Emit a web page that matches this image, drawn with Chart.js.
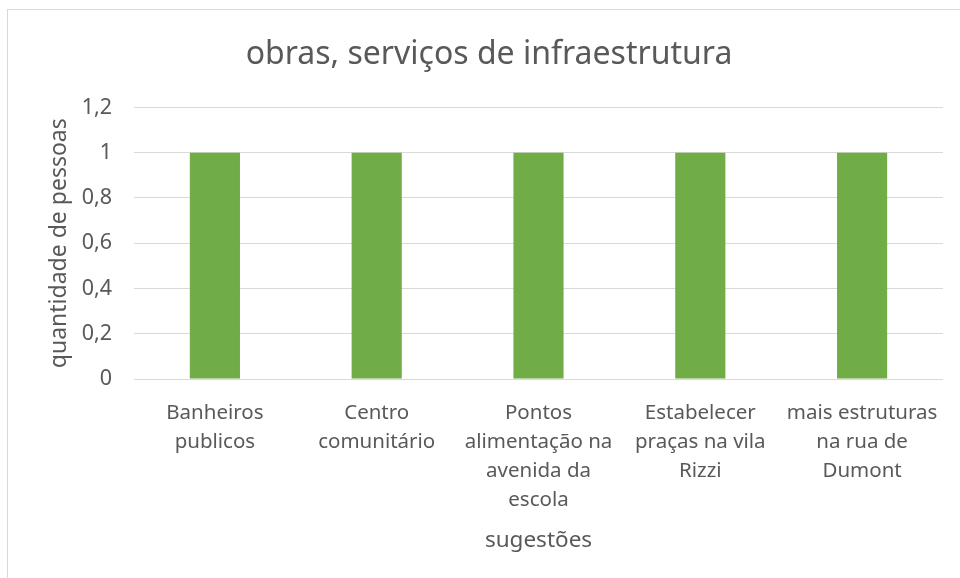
<!DOCTYPE html>
<html>
  <head>
    <meta charset="utf-8">
    <title>obras, serviços de infraestrutura</title>
    <script src="https://cdn.jsdelivr.net/npm/chart.js@4.4.1/dist/chart.umd.min.js"></script>
    <style>
      html, body { margin: 0; padding: 0; background: #fff; }
      #frame { position: absolute; left: 7px; top: 9px; width: 1000px; height: 620px; border: 1px solid #d9d9d9; }
      #wrap { position: absolute; left: 0; top: 0; width: 960px; height: 578px; }
    </style>
  </head>
  <body style="font-family: 'Noto Sans', sans-serif;">
    <div id="frame"></div>
    <div id="wrap">
      <canvas id="chart" width="960" height="578"></canvas>
    </div>

    <script type="text/javascript">
    var categories = [
      ["Banheiros", "publicos"],
      ["Centro", "comunitário"],
      ["Pontos", "alimentação na", "avenida da", "escola"],
      ["Estabelecer", "praças na vila", "Rizzi"],
      ["mais estruturas", "na rua de", "Dumont"]
    ]
    var pessoas = [1, 1, 1, 1, 1]
    var yTicks = ["0", "0,2", "0,4", "0,6", "0,8", "1", "1,2"]

    var textColor = "#595959"
    var gridColor = "#d9d9d9"
    var barColor = "#70ad47"
    var font = "'Noto Sans', sans-serif"

    var chart = new Chart(document.getElementById("chart"), {
      type: 'bar',
      data: {
        labels: categories,
        datasets: [
          {
            label: "quantidade de pessoas",
            backgroundColor: barColor,
            borderWidth: 0,
            barPercentage: 0.31,
            categoryPercentage: 1,
            data: pessoas
          }
        ]
      },
      options: {
        responsive: false,
        animation: false,
        // left padding pushes the title centre over to where the frame centre is
        layout: { padding: { left: 35, right: 17, top: 0, bottom: 0 } },
        plugins: {
          legend: { display: false },
          tooltip: { enabled: false },
          title: {
            display: true,
            text: "obras, serviços de infraestrutura",
            color: textColor,
            font: { family: font, size: 32, weight: 'normal', lineHeight: 1.2 },
            padding: { top: 36, bottom: 33 }
          }
        },
        scales: {
          x: {
            grid: { display: false },
            border: { display: false },
            ticks: {
              color: textColor,
              font: { family: font, size: 20.5, lineHeight: 1.41 },
              padding: 12,
              maxRotation: 0,
              autoSkip: false
            },
            title: {
              display: true,
              text: "sugestões",
              color: textColor,
              font: { family: font, size: 22.5, lineHeight: 1.2 },
              padding: { top: 0, bottom: 24 }
            },
            afterFit: function(scale) { scale.height = 199 }
          },
          y: {
            min: 0,
            max: 1.2,
            grid: { color: gridColor, lineWidth: 1, drawTicks: false },
            border: { display: false },
            ticks: {
              stepSize: 0.2,
              color: textColor,
              font: { family: font, size: 21.5 },
              padding: 22,
              callback: function(value, index) { return yTicks[index] }
            },
            title: {
              display: true,
              text: "quantidade de pessoas",
              color: textColor,
              font: { family: font, size: 23, lineHeight: 1.2 },
              padding: { top: 11, bottom: 0 }
            },
            afterFit: function(scale) { scale.width = 99 }
          }
        }
      }
    });
    </script>
  </body>
</html>
